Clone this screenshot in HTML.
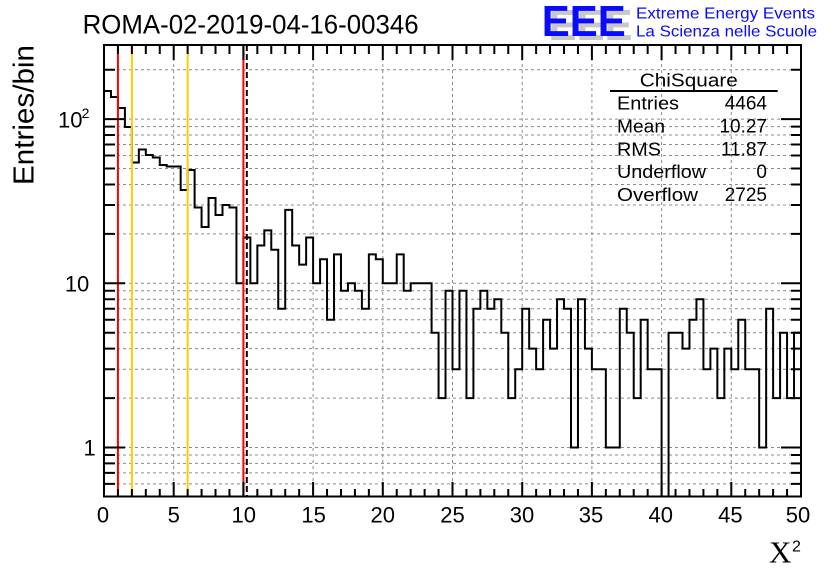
<!DOCTYPE html>
<html><head><meta charset="utf-8"><style>
html,body{margin:0;padding:0;background:#fff;}
svg{display:block;}
text{font-family:"Liberation Sans",Arial,Helvetica,sans-serif;fill:#000;}
</style></head><body>
<svg width="836" height="572" viewBox="0 0 836 572" xmlns="http://www.w3.org/2000/svg">
<defs><clipPath id="pc"><rect x="104" y="45" width="697" height="451"/></clipPath></defs>
<rect x="0" y="0" width="836" height="572" fill="#fff"/>

<!-- grid -->
<g stroke="#8c8c8c" stroke-width="1" stroke-dasharray="3,3" fill="none">
<path d="M173.7,46V495M243.4,46V495M313.1,46V495M382.8,46V495M452.5,46V495M522.2,46V495M591.9,46V495M661.6,46V495M731.3,46V495"/>
<path d="M105,483.9H800M105,472.9H800M105,463.4H800M105,455H800M105,447.5H800M105,398.1H800M105,369.2H800M105,348.6H800M105,332.7H800M105,319.7H800M105,308.7H800M105,299.2H800M105,290.8H800M105,283.3H800M105,233.9H800M105,205H800M105,184.5H800M105,168.5H800M105,155.5H800M105,144.5H800M105,135H800M105,126.6H800M105,119.1H800M105,69.7H800"/>
</g>

<!-- histogram -->
<path clip-path="url(#pc)" fill="none" stroke="#000" stroke-width="2" d="M104,497 V91 H110.97 V97 H117.94 V108 H124.91 V127 H131.88 V162.5 H138.85 V149.5 H145.82 V155 H152.79 V157.5 H159.76 V165 H166.73 V166.5 H180.67 V190 H187.64 V170 H194.61 V207.5 H201.58 V227 H208.55 V198 H215.52 V215 H222.49 V205 H229.46 V207.5 H236.43 V283.3 H243.4 V237.5 H250.37 V283.3 H257.34 V245.5 H264.31 V230.4 H271.28 V249.8 H278.25 V308.7 H285.22 V209.9 H292.19 V245.5 H299.16 V264.6 H306.13 V237.5 H313.1 V283.3 H320.07 V259.3 H327.04 V319.7 H334.01 V254.4 H340.98 V290.8 H347.95 V283.3 H354.92 V290.8 H361.89 V308.7 H368.86 V254.4 H375.83 V259.3 H382.8 V283.3 H396.74 V254.4 H403.71 V290.8 H410.68 V283.3 H431.59 V332.7 H438.56 V398.1 H445.53 V290.8 H452.5 V369.2 H459.47 V290.8 H466.44 V398.1 H473.41 V308.7 H480.38 V290.8 H487.35 V308.7 H494.32 V299.2 H501.29 V332.7 H508.26 V398.1 H515.23 V369.2 H522.2 V308.7 H529.17 V348.6 H536.14 V369.2 H543.11 V319.7 H550.08 V348.6 H557.05 V299.2 H564.02 V308.7 H570.99 V447.5 H577.96 V299.2 H584.93 V348.6 H591.9 V369.2 H605.84 V447.5 H619.78 V308.7 H626.75 V332.7 H633.72 V398.1 H640.69 V319.7 H647.66 V369.2 H661.6 V497 H668.57 V332.7 H682.51 V348.6 H689.48 V319.7 H696.45 V299.2 H703.42 V369.2 H710.39 V348.6 H717.36 V398.1 H724.33 V348.6 H731.3 V369.2 H738.27 V319.7 H745.24 V369.2 H759.18 V447.5 H766.15 V308.7 H773.12 V398.1 H780.09 V332.7 H787.06 V398.1 H794.03 V332.7 H801"/>

<!-- vertical marker lines -->
<g stroke-width="2" fill="none">
<path d="M117.94,45V496" stroke="#ff0000"/>
<path d="M243.4,45V496" stroke="#ff0000"/>
<path d="M131.88,45V496" stroke="#ffcc00"/>
<path d="M187.64,45V496" stroke="#ffcc00"/>
<path d="M246.8,45V496" stroke="#000" stroke-dasharray="6,3"/>
</g>

<!-- frame -->
<rect x="104" y="45" width="697" height="451.5" fill="none" stroke="#000" stroke-width="2"/>

<!-- ticks -->
<g stroke="#000" stroke-width="2" fill="none">
<path d="M117.94,496v-7M131.88,496v-7M145.82,496v-7M159.76,496v-7M187.64,496v-7M201.58,496v-7M215.52,496v-7M229.46,496v-7M257.34,496v-7M271.28,496v-7M285.22,496v-7M299.16,496v-7M327.04,496v-7M340.98,496v-7M354.92,496v-7M368.86,496v-7M396.74,496v-7M410.68,496v-7M424.62,496v-7M438.56,496v-7M466.44,496v-7M480.38,496v-7M494.32,496v-7M508.26,496v-7M536.14,496v-7M550.08,496v-7M564.02,496v-7M577.96,496v-7M605.84,496v-7M619.78,496v-7M633.72,496v-7M647.66,496v-7M675.54,496v-7M689.48,496v-7M703.42,496v-7M717.36,496v-7M745.24,496v-7M759.18,496v-7M773.12,496v-7M787.06,496v-7"/>
<path d="M173.7,496v-14M243.4,496v-14M313.1,496v-14M382.8,496v-14M452.5,496v-14M522.2,496v-14M591.9,496v-14M661.6,496v-14M731.3,496v-14"/>
<path d="M117.94,45v9M131.88,45v9M145.82,45v9M159.76,45v9M187.64,45v9M201.58,45v9M215.52,45v9M229.46,45v9M257.34,45v9M271.28,45v9M285.22,45v9M299.16,45v9M327.04,45v9M340.98,45v9M354.92,45v9M368.86,45v9M396.74,45v9M410.68,45v9M424.62,45v9M438.56,45v9M466.44,45v9M480.38,45v9M494.32,45v9M508.26,45v9M536.14,45v9M550.08,45v9M564.02,45v9M577.96,45v9M605.84,45v9M619.78,45v9M633.72,45v9M647.66,45v9M675.54,45v9M689.48,45v9M703.42,45v9M717.36,45v9M745.24,45v9M759.18,45v9M773.12,45v9M787.06,45v9"/>
<path d="M173.7,45v15M243.4,45v15M313.1,45v15M382.8,45v15M452.5,45v15M522.2,45v15M591.9,45v15M661.6,45v15M731.3,45v15"/>
<path d="M104,483.9h11M104,472.9h11M104,463.4h11M104,455h11M104,398.1h11M104,369.2h11M104,348.6h11M104,332.7h11M104,319.7h11M104,308.7h11M104,299.2h11M104,290.8h11M104,233.9h11M104,205h11M104,184.5h11M104,168.5h11M104,155.5h11M104,144.5h11M104,135h11M104,126.6h11M104,69.7h11"/>
<path d="M104,447.5h21M104,283.3h21M104,119.1h21"/>
<path d="M801,483.9h-10M801,472.9h-10M801,463.4h-10M801,455h-10M801,398.1h-10M801,369.2h-10M801,348.6h-10M801,332.7h-10M801,319.7h-10M801,308.7h-10M801,299.2h-10M801,290.8h-10M801,233.9h-10M801,205h-10M801,184.5h-10M801,168.5h-10M801,155.5h-10M801,144.5h-10M801,135h-10M801,126.6h-10M801,69.7h-10"/>
<path d="M801,447.5h-20M801,283.3h-20M801,119.1h-20"/>
</g>

<!-- x tick labels -->
<g font-size="22" text-anchor="middle">
<text x="103" y="522.5">0</text>
<text x="173.7" y="522.5">5</text>
<text x="243.8" y="522.5">10</text>
<text x="313.6" y="522.5">15</text>
<text x="382.8" y="522.5">20</text>
<text x="452.5" y="522.5">25</text>
<text x="522" y="522.5">30</text>
<text x="591" y="522.5">35</text>
<text x="660.8" y="522.5">40</text>
<text x="730.4" y="522.5">45</text>
<text x="798" y="522.5">50</text>
</g>

<!-- y tick labels -->
<g font-size="22">
<text x="89.6" y="455.5" text-anchor="middle">1</text>
<text x="89.3" y="291.5" text-anchor="end">10</text>
<text x="82.5" y="127.3" text-anchor="end">10</text>
<text x="81.6" y="118" font-size="14">2</text>
</g>

<!-- axis titles -->
<text transform="translate(33.3,185) rotate(-90)" font-size="29" textLength="140" lengthAdjust="spacingAndGlyphs">Entries/bin</text>
<text x="769" y="562.3" font-size="31" style="font-family:'Liberation Serif','Times New Roman',serif">X</text>
<text x="792" y="551.7" font-size="16">2</text>

<!-- title -->
<text x="82.6" y="33.3" font-size="26.5" textLength="336" lengthAdjust="spacingAndGlyphs">ROMA-02-2019-04-16-00346</text>

<!-- EEE logo -->
<text x="548.5" y="40" font-size="44" font-weight="bold" style="fill:#c8c8c8" textLength="84" lengthAdjust="spacingAndGlyphs">EEE</text>
<text x="541.8" y="36" font-size="44" font-weight="bold" style="fill:#0a0aff" textLength="84" lengthAdjust="spacingAndGlyphs">EEE</text>
<text x="636" y="18.3" font-size="16" style="fill:#0a0aff" textLength="179" lengthAdjust="spacingAndGlyphs">Extreme Energy Events</text>
<text x="636" y="36.3" font-size="16" style="fill:#0a0aff" textLength="181" lengthAdjust="spacingAndGlyphs">La Scienza nelle Scuole</text>

<!-- stats box -->
<text x="688.8" y="86.7" font-size="18.5" text-anchor="middle" textLength="98" lengthAdjust="spacingAndGlyphs">ChiSquare</text>
<path d="M610,91H777.7" stroke="#000" stroke-width="2"/>
<g font-size="18.5">
<text x="617" y="109.3" textLength="62" lengthAdjust="spacingAndGlyphs">Entries</text>
<text x="617" y="132.5" textLength="48" lengthAdjust="spacingAndGlyphs">Mean</text>
<text x="617" y="155.3" textLength="44" lengthAdjust="spacingAndGlyphs">RMS</text>
<text x="617" y="178.2" textLength="89" lengthAdjust="spacingAndGlyphs">Underflow</text>
<text x="617" y="200.8" textLength="81" lengthAdjust="spacingAndGlyphs">Overflow</text>
</g>
<g font-size="19" text-anchor="end">
<text x="767" y="109.3">4464</text>
<text x="767" y="132.5">10.27</text>
<text x="767" y="155.3">11.87</text>
<text x="767" y="178.2">0</text>
<text x="767" y="200.8">2725</text>
</g>
</svg>
</body></html>
